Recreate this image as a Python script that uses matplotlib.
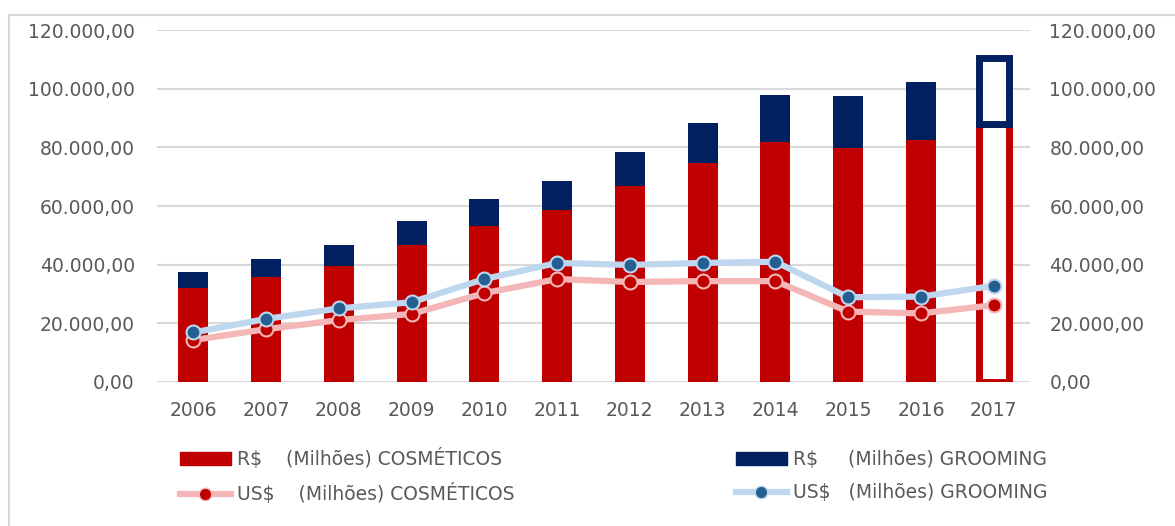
import matplotlib.pyplot as plt
from matplotlib.lines import Line2D
from matplotlib.patches import Patch
from matplotlib.ticker import FuncFormatter

anos = ['2006', '2007', '2008', '2009', '2010', '2011',
        '2012', '2013', '2014', '2015', '2016', '2017']

# R$ (milhões)
rs_cosmeticos = [32000, 35800, 39700, 46700, 53200, 58600,
                 66800, 74700, 81800, 79800, 82500, 88000]
rs_grooming = [5500, 6300, 7100, 8200, 9200, 9900,
               11600, 13600, 16000, 17700, 19800, 22500]

# US$ (milhões)
us_cosmeticos = [14300, 18000, 21100, 23200, 30300, 35100,
                 34100, 34400, 34400, 24000, 23400, 26200]
us_grooming = [16900, 21500, 25100, 27200, 35100, 40600,
               39900, 40600, 41000, 28900, 29100, 32800]

VERMELHO = '#C00000'
AZUL = '#002060'
ROSA = '#F4B6B6'
AZUL_CLARO = '#BDD7EE'
AZUL_MARCADOR = '#255E91'
CINZA = '#595959'
FONTE = 13.5

plt.rcParams['font.family'] = ['DejaVu Sans']


def fmt_br(v, pos):
    s = '{:,.2f}'.format(v)
    return s.replace(',', 'X').replace('.', ',').replace('X', '.')


fig = plt.figure(figsize=(11.75, 5.26), dpi=100)
ax = fig.add_axes([0.1336, 0.2738, 0.743, 0.669])
ax2 = ax.twinx()

x = list(range(len(anos)))
largura = 0.41

# último ano só com contorno
for i in x:
    if i < len(anos) - 1:
        ax.bar(i, rs_cosmeticos[i], largura, color=VERMELHO, zorder=2)
        ax.bar(i, rs_grooming[i], largura, bottom=rs_cosmeticos[i], color=AZUL, zorder=2)
    else:
        ax.bar(i, rs_cosmeticos[i], largura, facecolor='white',
               edgecolor=VERMELHO, linewidth=5, zorder=2)
        ax.bar(i, rs_grooming[i], largura, bottom=rs_cosmeticos[i],
               facecolor='white', edgecolor=AZUL, linewidth=5, zorder=3)

ax2.plot(x, us_cosmeticos, color=ROSA, lw=4.5, marker='o', ms=10,
         mfc=VERMELHO, mec=ROSA, mew=1.5, zorder=4)
ax2.plot(x, us_grooming, color=AZUL_CLARO, lw=4.5, marker='o', ms=10,
         mfc=AZUL_MARCADOR, mec=AZUL_CLARO, mew=1.5, zorder=5)

for a in (ax, ax2):
    a.set_ylim(0, 120000)
    a.set_yticks(range(0, 120001, 20000))
    a.yaxis.set_major_formatter(FuncFormatter(fmt_br))
    a.tick_params(length=0, labelsize=FONTE, labelcolor=CINZA)
    for s in a.spines.values():
        s.set_visible(False)
ax.tick_params(axis='y', pad=16)
ax2.tick_params(axis='y', pad=14)
ax.tick_params(axis='x', pad=14)

ax.set_xlim(-0.5, len(anos) - 0.5)
ax.set_xticks(x)
ax.set_xticklabels(anos)
ax.yaxis.grid(True, color='#D9D9D9', lw=1.5, zorder=0)
ax.set_axisbelow(True)

handles = [
    Patch(color=VERMELHO),
    Line2D([], [], color=ROSA, lw=4.5, marker='o', ms=9, mfc=VERMELHO, mec=ROSA),
    Patch(color=AZUL),
    Line2D([], [], color=AZUL_CLARO, lw=4.5, marker='o', ms=9, mfc=AZUL_MARCADOR, mec=AZUL_CLARO),
]
labels = [
    'R$    (Milhões) COSMÉTICOS',
    'US$    (Milhões) COSMÉTICOS',
    'R$     (Milhões) GROOMING',
    'US$   (Milhões) GROOMING',
]
fig.legend(handles, labels, ncol=2, loc='upper left',
           bbox_to_anchor=(180 / 1175, 0.148), frameon=False, fontsize=FONTE,
           labelcolor=CINZA, handlelength=2.7, handleheight=0.7, handletextpad=0.35,
           labelspacing=0.75, columnspacing=11.8, borderpad=0, borderaxespad=0)

# moldura
fig.add_artist(Line2D([0.008, 1.0], [0.972, 0.972], color='#D9D9D9', lw=1.5))
fig.add_artist(Line2D([0.008, 0.008], [0.0, 0.972], color='#D9D9D9', lw=1.5))

fig.savefig('out.png', dpi=100)
